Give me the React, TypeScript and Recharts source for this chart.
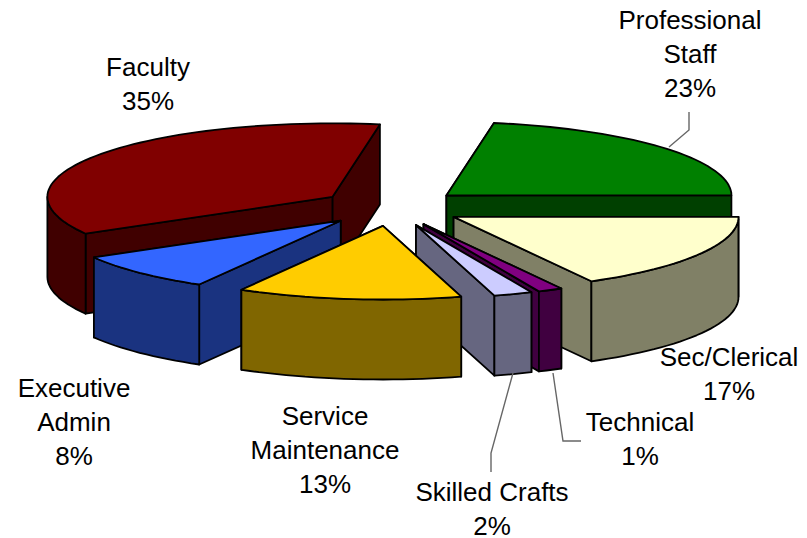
import React from "react";
import { PieChart, Pie } from "recharts";

const categories = ["Faculty", "Professional Staff", "Sec/Clerical", "Technical", "Skilled Crafts", "Service Maintenance", "Executive Admin"];
const shares = [36, 22.3, 17, 1.4, 2.2, 12.7, 8.4];
const percentLabels = ["35%", "23%", "17%", "1%", "2%", "13%", "8%"];
const topColors = ["#800000", "#008000", "#FFFFCC", "#800080", "#CCCCFF", "#FFCC00", "#3366FF"];
const sideColors = ["#400000", "#004000", "#808066", "#400040", "#666680", "#806600", "#1A3380"];

// label layout: text centre, first baseline, line breaks
const labelLines = [["Faculty"], ["Professional", "Staff"], ["Sec/Clerical"], ["Technical"], ["Skilled Crafts"], ["Service", "Maintenance"], ["Executive", "Admin"]];
const labelX = [148, 690, 729, 640, 492, 325, 74];
const labelY = [76, 29, 366, 431, 501, 425, 397];
const leaderLines = [null, "689,112 689,130 669,147", null, "553,373 563,441 581,441", "513,373 491,453 491,472", null, null];

const W = 807, H = 538;
const CX = 391.5, CY = 207.5, R = 285;
const SQUASH = 0.258, EXPLODE = 72, DEPTH = 80;
const RAD = Math.PI / 180;
const FRONT_SLICE = "Service Maintenance"; // painted last

const data = categories.map((name, i) => ({ name, value: shares[i], fill: topColors[i], side: sideColors[i], idx: i }));

type Pt = [number, number];

function Slice3D(props: any) {
  const { cx, cy, outerRadius, startAngle, endAngle, payload } = props;
  const p = payload ?? props;
  const mid = ((startAngle + endAngle) / 2) * RAD;
  const ax = cx + EXPLODE * Math.cos(mid);
  const ay = cy - EXPLODE * SQUASH * Math.sin(mid);
  const onRim = (deg: number): Pt => [ax + outerRadius * Math.cos(deg * RAD), ay - outerRadius * SQUASH * Math.sin(deg * RAD)];
  const rim: Pt[] = [];
  const front: Pt[] = [];
  const steps = Math.max(3, Math.ceil(Math.abs(endAngle - startAngle) / 2));
  for (let i = 0; i <= steps; i++) {
    const deg = startAngle + ((endAngle - startAngle) * i) / steps;
    const q = onRim(deg);
    rim.push(q);
    if (Math.sin(deg * RAD) <= 0.001) front.push(q);
  }
  const pts = (l: Pt[]) => l.map((q) => q.map((v) => v.toFixed(1)).join(",")).join(" ");
  const down = (q: Pt): Pt => [q[0], q[1] + DEPTH];
  const apex: Pt = [ax, ay];
  const ends = [rim[0], rim[rim.length - 1]].sort((a, b) => a[1] - b[1]);
  const common = { stroke: "#000", strokeWidth: 1.8, strokeLinejoin: "round" as const };
  return (
    <g>
      {ends.map((e, i) => (
        <polygon key={i} points={pts([apex, e, down(e), down(apex)])} fill={p.side} {...common} />
      ))}
      {front.length > 1 && (
        <polygon points={pts([...front, ...front.slice().reverse().map(down)])} fill={p.side} {...common} />
      )}
      <polygon points={pts([apex, ...rim])} fill={p.fill} {...common} />
    </g>
  );
}

const BackSlice = (props: any) => (props.name === FRONT_SLICE || props.payload?.name === FRONT_SLICE ? <g /> : <Slice3D {...props} />);
const FrontSlice = (props: any) => (props.name === FRONT_SLICE || props.payload?.name === FRONT_SLICE ? <Slice3D {...props} /> : <g />);

function SliceLabel(props: any) {
  const i = props.index ?? props.payload?.idx ?? 0;
  const lines = [...labelLines[i], percentLabels[i]];
  const leader = leaderLines[i];
  return (
    <g>
      {leader && <polyline points={leader} fill="none" stroke="#666" strokeWidth={1.4} />}
      <text x={labelX[i]} y={labelY[i]} textAnchor="middle" fontFamily="'Liberation Sans', Arial, sans-serif" fontSize={26} fill="#000">
        {lines.map((t, j) => (
          <tspan key={j} x={labelX[i]} dy={j === 0 ? 0 : 34}>{t}</tspan>
        ))}
      </text>
    </g>
  );
}

const pieGeometry = { data, dataKey: "value", nameKey: "name", cx: CX, cy: CY, outerRadius: R, startAngle: 210, endAngle: -150 };

export default function App() {
  return (
    <div style={{ position: "absolute", left: 0, top: 0, width: W, height: H, background: "#fff" }}>
      <PieChart width={W} height={H} margin={{ top: 0, right: 0, bottom: 0, left: 0 }}>
        <Pie {...pieGeometry} isAnimationActive={false} shape={BackSlice} label={false} labelLine={false} />
        <Pie {...pieGeometry} isAnimationActive={false} shape={FrontSlice} label={SliceLabel} labelLine={false} />
      </PieChart>
    </div>
  );
}
